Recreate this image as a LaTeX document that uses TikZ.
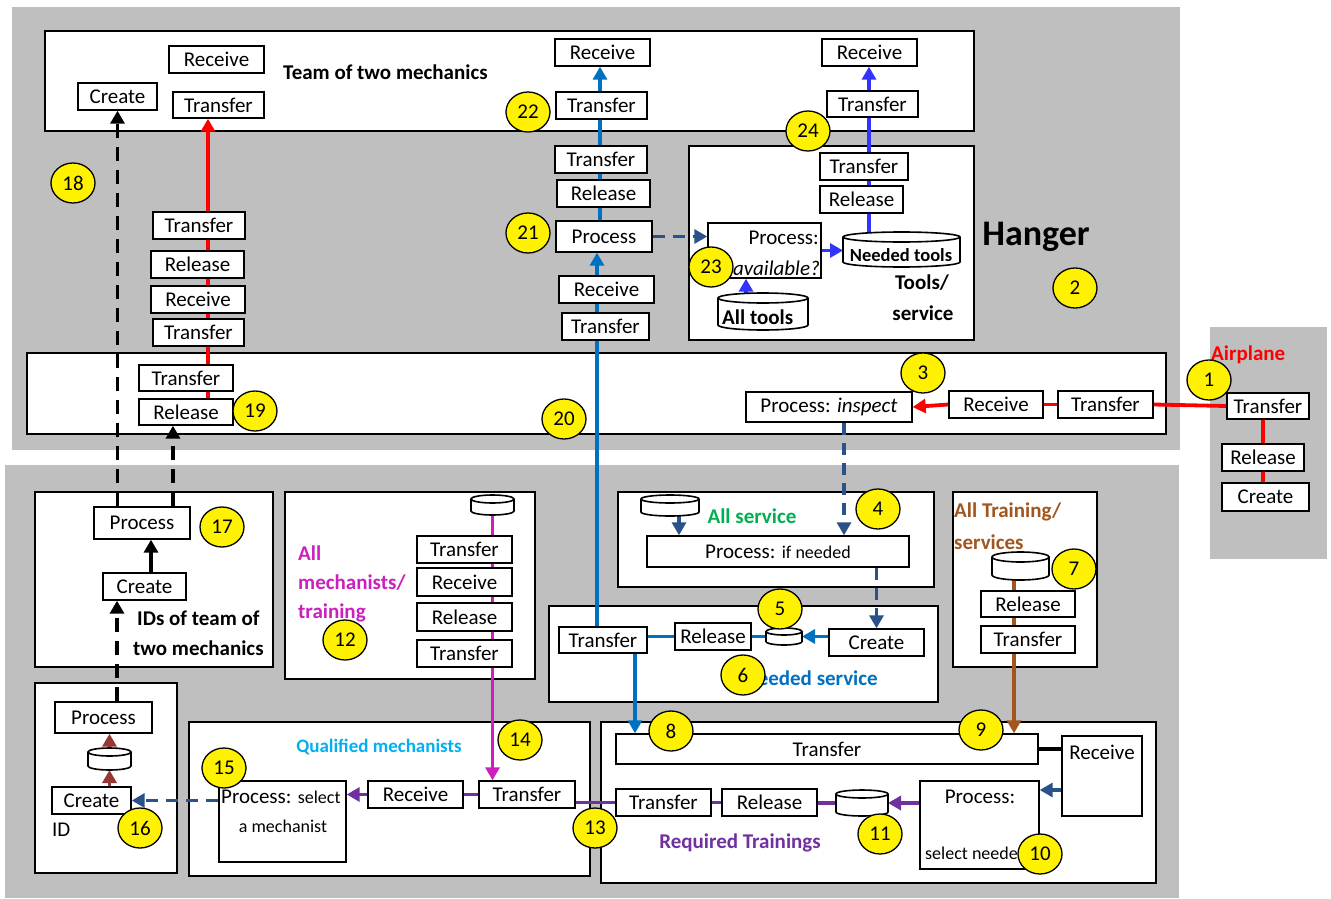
\documentclass[tikz,border=0pt]{standalone}
\usepackage{fontspec}
\setmainfont{Carlito}
\usetikzlibrary{arrows.meta,shapes.geometric}
\definecolor{hgray}{HTML}{BFBFBF}
\definecolor{cblue}{HTML}{0070C0}
\definecolor{tblue}{HTML}{3333FF}
\definecolor{dblue}{HTML}{2A5288}
\definecolor{brn}{HTML}{A0561E}
\definecolor{mag}{HTML}{CC1FBF}
\definecolor{purp}{HTML}{7030A0}
\definecolor{grn}{HTML}{00B050}
\definecolor{lblue}{HTML}{00B0F0}
\definecolor{rbrn}{HTML}{953735}
\pgfdeclarelayer{back}
\pgfdeclarelayer{mid}
\pgfsetlayers{back,mid,main}
\newcommand\ftx{\fontsize{21}{25}\selectfont}
\newcommand\fsm{\fontsize{18}{21}\selectfont}
\newcommand\flab{\fontsize{21}{25}\selectfont\bfseries}
\newcommand\rbox[7][box]{\node[#1,minimum width={#5-#3},minimum height={#6-#4}] (#2) at ({(#3+#5)/2},{(#4+#6)/2}) {#7};}
\newcommand\mkcyl[6]{%
 \pgfmathsetmacro\cxa{(#2+#4)/2}%
 \pgfmathsetmacro\crx{(#4-#2)/2}%
 \node[inner sep=0pt,outer sep=0pt,minimum width={#4-#2},minimum height={#5-#3}] (#1) at (\cxa,{(#3+#5)/2}) {};%
 \filldraw[cylst] (\cxa,{#5-#6}) ellipse[x radius=\crx pt,y radius=#6pt];%
 \fill[white] (#2,{#3+#6}) rectangle (#4,{#5-#6});%
 \draw[cylst] (#2,{#3+#6}) -- (#2,{#5-#6}) (#4,{#3+#6}) -- (#4,{#5-#6});%
 \filldraw[cylst] (\cxa,{#3+#6}) ellipse[x radius=\crx pt,y radius=#6pt];%
}
\newcommand\numc[3]{\node[num] (n#1) at (#2,#3) {#1};}
\begin{document}
\begin{tikzpicture}[x=1pt,y=-1pt,
 box/.style={draw,fill=white,line width=1.4pt,inner sep=0pt,font=\ftx},
 cont/.style={draw,fill=white,line width=1.7pt,inner sep=0pt},
 cylst/.style={draw=black,fill=white,line width=1.6pt},
 num/.style={ellipse,draw,line width=1.3pt,fill=yellow,minimum width=44pt,minimum height=40pt,inner sep=0pt,font=\ftx},
 lab/.style={font=\flab,inner sep=0pt},
 arr/.style={-{Triangle[length=13pt,width=14pt]}},
 redl/.style={draw=red,line width=3.8pt},
 bluel/.style={draw=cblue,line width=3.5pt},
 tbl/.style={draw=tblue,line width=3.5pt},
 dbl/.style={draw=dblue,line width=3.5pt},
 dbld/.style={draw=dblue,line width=3.5pt,dash pattern=on 12pt off 8pt},
 brl/.style={draw=brn,line width=3.5pt},
 magl/.style={draw=mag,line width=3.5pt},
 purl/.style={draw=purp,line width=3.5pt},
 blkl/.style={draw=black,line width=4pt},
 blkd/.style={draw=black,line width=3.8pt,dash pattern=on 14pt off 9pt},
 rbl/.style={draw=rbrn,line width=3.5pt}]
\useasboundingbox (0,0) rectangle (1331,899);
\begin{pgfonlayer}{back}
\fill[hgray] (12,7) rectangle (1180,450);
\fill[hgray] (1210,327) rectangle (1327,559);
\fill[hgray] (5,465) rectangle (1179,898);
\rbox[cont]{team}{45}{31}{974}{131}{}
\rbox[cont]{tools}{689}{146}{974}{340}{}
\rbox[cont]{insp}{27}{353}{1166}{434}{}
\rbox[cont]{ids}{35}{492}{273}{667}{}
\rbox[cont]{idb}{35}{683}{177}{873}{}
\rbox[cont]{mech}{285}{492}{535}{679}{}
\rbox[cont]{qual}{189}{722}{590}{876}{}
\rbox[cont]{allsv}{618}{492}{934}{587}{}
\rbox[cont]{needsv}{549}{606}{938}{702}{}
\rbox[cont]{train}{953}{492}{1097}{667}{}
\rbox[cont]{req}{601}{722}{1156}{883}{}
\end{pgfonlayer}
% team
\rbox{tcreate}{78}{83}{157}{110}{Create}
\rbox{trecv}{169}{46}{264}{73}{Receive}
\rbox{ttrans}{173}{92}{264}{118}{Transfer}
\rbox{r22}{555}{39}{650}{66}{Receive}
\rbox{t22}{556}{92}{647}{119}{Transfer}
\rbox{r24}{822}{39}{917}{66}{Receive}
\rbox{t24}{827}{91}{918}{117}{Transfer}
% red column
\rbox{rc1}{153}{212}{245}{239}{Transfer}
\rbox{rc2}{151}{251}{244}{278}{Release}
\rbox{rc3}{151}{286}{245}{313}{Receive}
\rbox{rc4}{153}{319}{244}{346}{Transfer}
\rbox{t19}{139}{365}{233}{391}{Transfer}
\rbox{rl19}{139}{399}{233}{425}{Release}
% blue column
\rbox{bc1}{555}{146}{647}{173}{Transfer}
\rbox{bc2}{557}{180}{650}{207}{Release}
\rbox{p21}{556}{221}{652}{252}{Process}
\rbox{bc3}{559}{276}{654}{303}{Receive}
\rbox{bc4}{562}{313}{649}{340}{Transfer}
% tools
\rbox{tt}{820}{153}{908}{180}{Transfer}
\rbox{tr}{820}{186}{903}{213}{Release}
\rbox{pav}{708}{223}{821}{278}{}
\mkcyl{ntools}{843}{232}{960}{267}{5}
\mkcyl{atools}{718}{293}{808}{330}{5}
% inspect
\rbox{pin}{746}{392}{912}{422}{Process: \textit{inspect}}
\rbox{irecv}{949}{391}{1043}{418}{Receive}
\rbox{itrans}{1058}{391}{1153}{418}{Transfer}
% airplane
\rbox{atrans}{1227}{393}{1309}{419}{Transfer}
\rbox{arel}{1222}{444}{1304}{471}{Release}
\rbox{acre}{1222}{483}{1309}{511}{Create}
% IDs
\rbox{p17}{94}{507}{190}{539}{Process}
\rbox{c17}{103}{573}{186}{600}{Create}
\rbox{pid}{55}{702}{152}{733}{Process}
\mkcyl{cid}{88}{748}{131}{770}{4}
\rbox{crid}{52}{787}{131}{814}{Create}
% mechanists
\mkcyl{cm}{471}{495}{514}{515}{4}
\rbox{m1}{417}{536}{512}{563}{Transfer}
\rbox{m2}{417}{568}{512}{596}{Receive}
\rbox{m3}{417}{603}{512}{631}{Release}
\rbox{m4}{417}{640}{512}{667}{Transfer}
% qualified
\rbox{psel}{219}{781}{346}{862}{}
\rbox{qrecv}{368}{781}{463}{808}{Receive}
\rbox{qtrans}{479}{781}{575}{808}{Transfer}
% all service
\mkcyl{cas}{641}{495}{699}{516}{4}
\rbox{pif}{647}{536}{909}{567}{Process: {\fsm if needed}}
% needed service
\rbox{ntrans}{559}{627}{647}{653}{Transfer}
\rbox{nrel}{675}{623}{751}{650}{Release}
\mkcyl{cns}{766}{628}{802}{645}{3.5}
\rbox{ncre}{829}{629}{924}{656}{Create}
% training
\mkcyl{ctr}{992}{552}{1049}{580}{5}
\rbox{trrel}{981}{591}{1075}{617}{Release}
\rbox{trtr}{981}{626}{1075}{653}{Transfer}
% required
\rbox{bigt}{616}{734}{1038}{764}{Transfer}
\rbox{rrecv}{1062}{736}{1142}{816}{}
\rbox{preq}{920}{781}{1039}{869}{}
\mkcyl{creq}{836}{790}{888}{816}{4}
\rbox{rrel}{722}{789}{817}{816}{Release}
\rbox{rtr}{616}{789}{711}{816}{Transfer}
% connectors
\begin{pgfonlayer}{mid}
\draw[redl] (atrans.west) -- (itrans.east);
\draw[redl] (arel.north |- atrans.south) -- (arel.north);
\draw[redl] (arel.south) -- (arel.south |- acre.north);
\draw[redl] (itrans.west) -- (irecv.east);
\draw[redl,arr] (irecv.west) -- (pin.east);
\coordinate (r19) at ([xshift=22pt]rl19.north);
\draw[redl,arr] (r19) -- (r19 |- ttrans.south);
\coordinate (bb) at ([xshift=-6pt]ntrans.north);
\draw[bluel,arr] (bb) -- (bb |- p21.south);
\coordinate (bt) at ([xshift=-4pt]p21.north);
\draw[bluel,arr] (bt) -- (bt |- r22.south);
\coordinate (bd) at ([xshift=32pt]ntrans.south);
\draw[bluel,arr] (bd) -- (bd |- bigt.north);
\draw[bluel,arr] (ncre.west |- cns.east) -- (cns.east);
\draw[bluel] (cns.west) -- (nrel.east |- cns.west);
\draw[bluel] (nrel.west) -- (ntrans.east |- nrel.west);
\coordinate (tb) at ([xshift=-32.5pt]ntools.north);
\draw[tbl,arr] (tb) -- (tb |- r24.south);
\draw[tbl,arr] (pav.east) -- (ntools.west |- pav.east);
\coordinate (ta) at ([xshift=-17pt]atools.north);
\draw[tbl,arr] (ta) -- (ta |- pav.south);
\draw[dbld,arr] (p21.east) -- (p21.east -| pav.west);
\coordinate (ia) at ([xshift=15pt]pin.south);
\draw[dbld,arr] (ia) -- (ia |- pif.north);
\draw[dbld,arr] (ncre.north |- pif.south) -- (ncre.north);
\coordinate (ca) at ([xshift=9pt]cas.south);
\draw[dbl,arr] (ca) -- (ca |- pif.north);
\coordinate (ra) at ([yshift=-14pt]rrecv.west);
\draw[dbl,arr] (ra) -- (ra -| preq.east);
\draw[dbld,arr] (psel.west |- crid.east) -- (crid.east);
\coordinate (ba) at ([xshift=-6.5pt]ctr.south);
\draw[brl,arr] (ba) -- (ba |- bigt.north);
\draw[blkl] (bigt.east) -- (rrecv.west |- bigt.east);
\draw[purl,arr] (preq.west |- creq.east) -- (creq.east);
\draw[purl] (creq.west) -- (rrel.east |- creq.west);
\draw[purl] (rrel.west) -- (rtr.east |- rrel.west);
\draw[purl] (rtr.west) -- (qtrans.east |- rtr.west);
\draw[purl] (qtrans.west) -- (qrecv.east);
\draw[purl,arr] (qrecv.west) -- (psel.east |- qrecv.west);
\draw[magl,arr] (cm.south) -- (cm.south |- qtrans.north);
\draw[blkd,arr] (tcreate.south |- p17.north) -- (tcreate.south);
\coordinate (da) at ([xshift=31pt]p17.north);
\draw[blkd,arr] (da) -- (da |- rl19.south);
\coordinate (db) at ([xshift=13.5pt]pid.north);
\draw[blkd,arr] (db) -- (db |- c17.south);
\coordinate (sa) at ([xshift=6.5pt]c17.north);
\draw[blkl,arr] (sa) -- (sa |- p17.south);
\draw[rbl,arr] (cid.south |- crid.north) -- (cid.south);
\draw[rbl,arr] (cid.north) -- (cid.north |- pid.south);
\end{pgfonlayer}
% texts
\node[lab,anchor=west] (tteam) at (283,72) {Team of two mechanics};
\node[font=\fontsize{36}{40}\selectfont\bfseries,inner sep=0pt] (thang) at (1036,237) {Hanger};
\node[lab] (ttools) at (922,283) {Tools/};
\node[lab] (tserv) at (923,313) {service};
\node[font=\fontsize{18.5}{22}\selectfont\bfseries,inner sep=0pt] (tnt) at (901,255) {Needed tools};
\node[lab,anchor=west] (tat) at (722,317) {All tools};
\node[font=\ftx,inner sep=0pt,anchor=east] (tpav1) at (819,238) {Process:};
\node[font=\ftx,inner sep=0pt,anchor=east] (tpav2) at (820,269) {\underline{\textit{available?}}};
\node[lab,text=red,anchor=west] (tair) at (1211,355) {Airplane};
\node[lab,anchor=west] (tids1) at (137,618) {IDs of team of};
\node[lab,anchor=west] (tids2) at (133,648) {two mechanics};
\node[font=\ftx,inner sep=0pt,anchor=west] (tid) at (52,830) {ID};
\node[lab,text=mag,anchor=west] (tm1) at (298,553) {All};
\node[lab,text=mag,anchor=west] (tm2) at (298,583) {mechanists/};
\node[lab,text=mag,anchor=west] (tm3) at (298,613) {training};
\node[font=\fontsize{19}{22}\selectfont\bfseries,text=lblue,inner sep=0pt] (tq) at (379,747) {Qualified mechanists};
\node[font=\ftx,inner sep=0pt,anchor=west] (tps1) at (221,797) {Process: {\fsm select}};
\node[font=\fsm,inner sep=0pt] (tps2) at (283,826) {a mechanist};
\node[lab,text=grn] (tas) at (752,516) {All service};
\node[lab,text=cblue,anchor=east] (tns) at (878,678) {Needed service};
\node[lab,text=brn,anchor=west] (ttr1) at (954,512) {All Training/};
\node[lab,text=brn,anchor=west] (ttr2) at (954,542) {services};
\node[lab,text=purp] (trt) at (740,843) {Required Trainings};
\node[font=\ftx,inner sep=0pt] (tpr1) at (980,797) {Process:};
\node[font=\fsm,inner sep=0pt,anchor=west] (tpr2) at (925,853) {select needed};
\node[font=\ftx,inner sep=0pt] (trr) at (1102,752) {Receive};
% numbers
\numc{1}{1209}{380}
\numc{2}{1075}{288}
\numc{3}{923}{373}
\numc{4}{878}{509}
\numc{5}{780}{609}
\numc{6}{743}{675}
\numc{7}{1074}{569}
\numc{8}{671}{731}
\numc{9}{981}{730}
\numc{10}{1040}{854}
\numc{11}{880}{834}
\numc{12}{345}{640}
\numc{13}{595}{828}
\numc{14}{520}{740}
\numc{15}{224}{768}
\numc{16}{140}{828}
\numc{17}{222}{527}
\numc{18}{73}{183}
\numc{19}{255}{411}
\numc{20}{564}{419}
\numc{21}{528}{233}
\numc{22}{528}{112}
\numc{23}{711}{267}
\numc{24}{808}{131}
\end{tikzpicture}
\end{document}
